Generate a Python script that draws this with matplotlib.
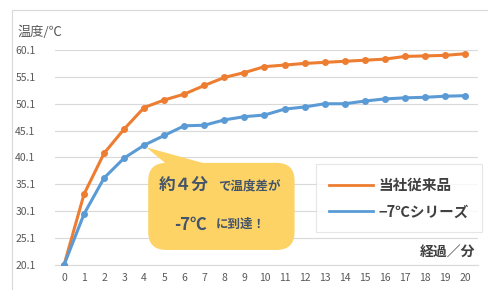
import matplotlib
matplotlib.use("Agg")
from matplotlib import pyplot as plt
from matplotlib.patches import FancyBboxPatch, Polygon, Rectangle

plt.rcParams['font.family'] = ['Noto Sans CJK JP', 'DejaVu Sans']

minutes = list(range(0, 21))
conventional = [20.1, 33.3, 40.9, 45.4, 49.4, 50.8, 51.9, 53.5, 55.0, 55.9, 57.0,
                57.3, 57.6, 57.8, 58.0, 58.2, 58.4, 58.9, 59.0, 59.1, 59.4]
minus7 = [20.1, 29.6, 36.3, 40.0, 42.4, 44.2, 46.0, 46.1, 47.1, 47.7, 48.0,
          49.1, 49.5, 50.1, 50.1, 50.6, 51.0, 51.2, 51.3, 51.5, 51.6]
yticks = [20.1, 25.1, 30.1, 35.1, 40.1, 45.1, 50.1, 55.1, 60.1]
series_names = ["当社従来品", "\u22127℃シリーズ"]

W, H = 489, 290
fig = plt.figure(figsize=(W / 100, H / 100), dpi=100)
fig.patch.set_facecolor("white")

# outer chart frame
fig.patches.append(Rectangle((12 / W, -0.2), 1.2, 1.2 - 10 / H, transform=fig.transFigure,
                             fill=False, ec="#D9D9D9", lw=0.8))

ax = fig.add_axes([55 / W, 25 / H, 423 / W, 215 / H])
ax.set_xlim(-0.45, 20.65)
ax.set_ylim(20.1, 60.1)

orange = "#ED7D31"
blue = "#5B9BD5"
l1, = ax.plot(minutes, conventional, color=orange, lw=2.2, marker="o", ms=4, zorder=3)
l2, = ax.plot(minutes, minus7, color=blue, lw=2.2, marker="o", ms=4, zorder=3)

ax.set_yticks(yticks)
ax.set_yticklabels(["%.1f" % v for v in yticks])
ax.set_xticks(minutes)
ax.grid(axis="y", color="#D9D9D9", lw=0.8)
ax.set_axisbelow(True)
for s in ["top", "right", "left"]:
    ax.spines[s].set_visible(False)
ax.spines["bottom"].set_color("#D9D9D9")
ax.tick_params(length=0, labelsize=7.5, labelcolor="#595959")
ax.tick_params(axis="y", pad=14)
ax.tick_params(axis="x", pad=6)

fig.text(18 / W, 1 - 32 / H, "温度/℃", fontsize=9.5, color="#595959", va="center")
fig.text(475 / W, 1 - 253 / H, "経過／分", fontsize=10, color="#404040",
         fontweight="bold", ha="right", va="center")

# callout
bx0, bx1, by0, by1 = 4.2, 11.5, 22.9, 39.1
callout_color = "#FDD366"
box = FancyBboxPatch((bx0, by0), bx1 - bx0, by1 - by0,
                     boxstyle="round,pad=0,rounding_size=0.9", mutation_aspect=3.7,
                     fc=callout_color, ec="none", zorder=4)
ax.add_patch(box)
tail = Polygon([(minutes[4] + 0.1, minus7[4] - 0.4), (5.1, by1 - 0.2), (7.1, by1 - 0.2)],
               closed=True, fc=callout_color, ec="none", zorder=4)
ax.add_patch(tail)
txt = "#44546A"
ax.text(5.95, 34.8, "約４分", fontsize=12, fontweight="bold", color=txt, ha="center", va="center", zorder=5)
ax.text(9.25, 34.8, "で温度差が", fontsize=9, fontweight="bold", color=txt, ha="center", va="center", zorder=5)
ax.text(6.3, 27.6, "-7℃", fontsize=12, fontweight="bold", color=txt, ha="center", va="center", zorder=5)
ax.text(8.8, 27.6, "に到達！", fontsize=9, fontweight="bold", color=txt, ha="center", va="center", zorder=5)

leg = fig.legend([l1, l2], series_names, loc="upper left",
                 bbox_to_anchor=(316 / W, 1 - 164 / H), frameon=True, fancybox=False,
                 prop={"size": 10.5, "weight": "bold"}, handlelength=3.0, borderpad=0.9,
                 labelspacing=0.7, handletextpad=0.4, borderaxespad=0)
leg.get_frame().set_edgecolor("#E0E0E0")
leg.get_frame().set_linewidth(0.8)
for h in leg.legend_handles:
    h.set_marker("")
    h.set_linewidth(2)
for t in leg.get_texts():
    t.set_color("#404040")

fig.savefig("out.png", dpi=100)
